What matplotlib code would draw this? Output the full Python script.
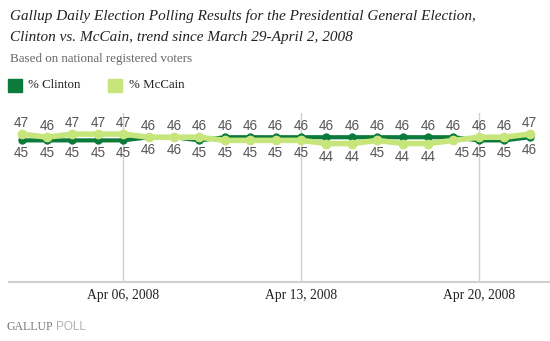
import matplotlib
matplotlib.use("Agg")
import matplotlib.pyplot as plt
import numpy as np

dates = ["Apr 02", "Apr 03", "Apr 04", "Apr 05", "Apr 06", "Apr 07", "Apr 08",
         "Apr 09", "Apr 10", "Apr 11", "Apr 12", "Apr 13", "Apr 14", "Apr 15",
         "Apr 16", "Apr 17", "Apr 18", "Apr 19", "Apr 20", "Apr 21", "Apr 22"]
clinton = [45, 45, 45, 45, 45, 46, 46, 45, 46, 46, 46, 46, 46, 46, 46, 46, 46, 46, 45, 45, 46]
mccain = [47, 46, 47, 47, 47, 46, 46, 46, 45, 45, 45, 45, 44, 44, 45, 44, 44, 45, 46, 46, 47]
tick_idx = [4, 11, 18]
tick_labels = ["Apr 06, 2008", "Apr 13, 2008", "Apr 20, 2008"]

C_DARK = "#0b7a3b"
C_LIGHT = "#c6e57a"
GREY_TXT = "#555555"

W, H = 550, 341
fig = plt.figure(figsize=(W / 100, H / 100), dpi=100)

# axes: left 9px, right 550px, top 113px, bottom 282px
ax = fig.add_axes([9 / W, 1 - 282 / H, (550 - 9) / W, (282 - 113) / H])
x = np.arange(len(dates))
ax.set_xlim(-0.5, 20.8)
ax.set_ylim(0, 53.7)

for t in tick_idx:
    ax.axvline(t, color="#d0d0d0", lw=1, zorder=1)

ax.plot(x, clinton, color=C_DARK, lw=3, marker="o", ms=5, zorder=3)
ax.plot(x, mccain, color=C_LIGHT, lw=4, marker="o", ms=6, zorder=4)

lab_font = dict(family="Liberation Sans", fontsize=9.8, color=GREY_TXT)
for i in range(len(x)):
    c, m = clinton[i], mccain[i]
    top, bot = (m, c) if m >= c else (c, m)
    ax.annotate(str(top), (x[i], top), xytext=(0, 11), textcoords="offset pixels",
                ha="center", va="center", zorder=5, **lab_font)
    dx = 9 if i == 17 else 0
    ax.annotate(str(bot), (x[i], bot), xytext=(dx, -13), textcoords="offset pixels",
                ha="center", va="center", zorder=5, **lab_font)

for s in ["top", "right", "left"]:
    ax.spines[s].set_visible(False)
ax.spines["bottom"].set_color("#d0d0d0")
ax.spines["bottom"].set_linewidth(1.5)
ax.set_yticks([])
ax.set_xticks(tick_idx)
ax.set_xticklabels(tick_labels, family="Liberation Serif", fontsize=9.8, color="#222222")
ax.tick_params(axis="x", length=0, pad=5)

# Titles
fig.text(10 / W, 1 - 16 / H, "Gallup Daily Election Polling Results for the Presidential General Election,",
         family="Liberation Serif", style="italic", fontsize=11, color="#222222", va="center")
fig.text(10 / W, 1 - 38 / H, "Clinton vs. McCain, trend since March 29-April 2, 2008",
         family="Liberation Serif", style="italic", fontsize=11, color="#222222", va="center")
fig.text(10 / W, 1 - 59 / H, "Based on national registered voters",
         family="Liberation Serif", fontsize=9.4, color="#666666", va="center")

# Legend
fig.patches.append(plt.Rectangle((8 / W, 1 - 92 / H), 14 / W, 13 / H, transform=fig.transFigure,
                                 color=C_DARK, figure=fig))
fig.text(28 / W, 1 - 85 / H, "% Clinton", family="Liberation Serif", fontsize=9.3,
         color="#222222", va="center")
fig.patches.append(plt.Rectangle((108 / W, 1 - 92 / H), 14 / W, 13 / H, transform=fig.transFigure,
                                 color=C_LIGHT, figure=fig))
fig.text(129 / W, 1 - 85 / H, "% McCain", family="Liberation Serif", fontsize=9.3,
         color="#222222", va="center")

# Logo
fig.text(6 / W, 1 - 327 / H, "GALLUP", family="Liberation Serif", fontsize=8.5,
         color="#777777", va="center")
fig.text(56 / W, 1 - 327 / H, "POLL", family="Liberation Sans", fontsize=8.5,
         color="#b0b0b0", va="center")

fig.savefig("out.png", dpi=100)
